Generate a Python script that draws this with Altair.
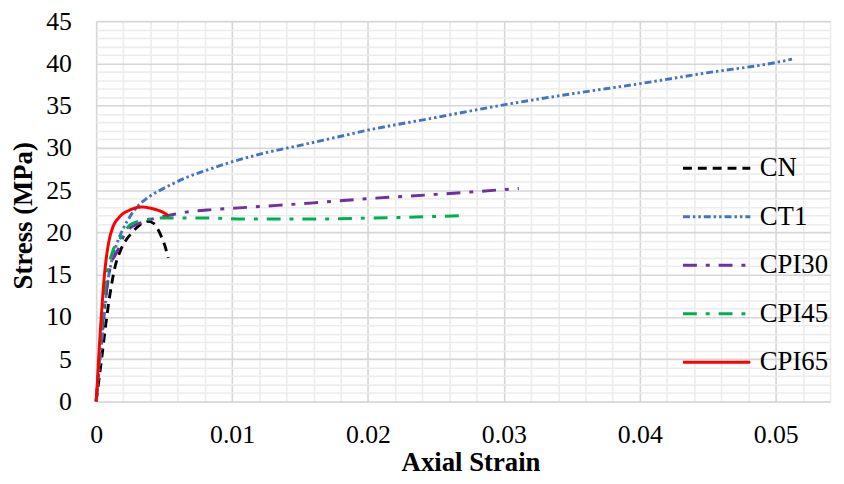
import altair as alt
import pandas as pd

series_names = ["CN", "CT1", "CPI30", "CPI45", "CPI65"]
series_colors = ["#000000", "#4472C4", "#7030A0", "#00B050", "#FF0000"]
series_dashes = [[9, 6], [7, 3, 2.5, 3, 2.5, 3], [14, 9, 4, 9], [14, 9, 4, 9], [1, 0]]
series_widths = [2.9, 3.0, 4.5, 4.5, 3.6]

cn_strain = [0, 0.0002, 0.0004, 0.0007, 0.001, 0.0014, 0.0018, 0.0022, 0.0026, 0.003,
             0.0034, 0.0038, 0.0042, 0.0045, 0.0048, 0.0051, 0.0053]
cn_stress = [0, 2.5, 5, 9.0, 12.5, 16.0, 17.9, 19.1, 19.9, 20.6,
             21.1, 21.3, 21.1, 20.5, 19.5, 18.2, 17.0]

ct1_strain = [0, 0.0002, 0.0005, 0.0008, 0.0012, 0.0016, 0.002, 0.0025, 0.003, 0.0037,
              0.0046, 0.0057, 0.0068, 0.0082, 0.0097, 0.0124, 0.015, 0.0175, 0.02, 0.025,
              0.03, 0.035, 0.04, 0.045, 0.05, 0.0512]
ct1_stress = [0, 3.5, 8.5, 13.5, 17.0, 19.0, 20.5, 21.9, 23.0, 24.0,
              24.9, 25.8, 26.6, 27.4, 28.2, 29.4, 30.3, 31.2, 32.1, 33.6,
              35.1, 36.4, 37.6, 38.9, 40.1, 40.5]

cpi30_strain = [0, 0.0002, 0.0005, 0.0008, 0.0011, 0.0014, 0.0017, 0.002, 0.0024, 0.0029,
                0.0034, 0.0044, 0.0053, 0.0066, 0.0085, 0.0105, 0.0133, 0.016, 0.02, 0.025, 0.0311]
cpi30_stress = [0, 4, 9.5, 13.5, 16.3, 17.3, 18.3, 19.5, 20.4, 20.9,
                21.2, 21.7, 22.0, 22.4, 22.7, 22.9, 23.2, 23.5, 24.0, 24.5, 25.2]

cpi45_strain = [0, 0.0002, 0.0004, 0.0007, 0.0012, 0.0017, 0.0021, 0.0025, 0.0031, 0.0037,
                0.0046, 0.0057, 0.008, 0.011, 0.014, 0.017, 0.02, 0.023, 0.0272]
cpi45_stress = [0, 4.5, 9, 14, 17.7, 19.1, 20.1, 20.9, 21.3, 21.5,
                21.7, 21.7, 21.7, 21.6, 21.6, 21.6, 21.7, 21.8, 22.0]

cpi65_strain = [0, 0.0001, 0.0002, 0.0004, 0.0006, 0.0008, 0.001, 0.0012, 0.0017, 0.0024,
                0.0029, 0.0034, 0.0039, 0.0044, 0.0049, 0.0053]
cpi65_stress = [0, 2.5, 5.5, 10.5, 14.8, 17.6, 19.4, 20.5, 21.8, 22.6,
                22.9, 23.0, 22.9, 22.7, 22.4, 22.0]

x_tick_values = [round(i * 0.002, 3) for i in range(28)]
y_tick_values = list(range(46))

series_data = [
    ("CN", cn_strain, cn_stress),
    ("CT1", ct1_strain, ct1_stress),
    ("CPI30", cpi30_strain, cpi30_stress),
    ("CPI45", cpi45_strain, cpi45_stress),
    ("CPI65", cpi65_strain, cpi65_stress),
]
rows = []
for name, xs, ys in series_data:
    for i, (a, b) in enumerate(zip(xs, ys)):
        rows.append({"series": name, "strain": a, "stress": b, "idx": i})
df = pd.DataFrame(rows)

FONT = "Liberation Serif"
MAJOR = "#d6d6d6"
MINOR = "#ececec"

legend = alt.Legend(
    title=None, orient="none", legendX=591, legendY=113,
    symbolType="stroke", symbolSize=4624, labelFont=FONT, labelFontSize=27,
    labelColor="black", rowPadding=-19, labelOffset=8, padding=0,
)

x_axis = alt.Axis(
    values=x_tick_values,
    labelExpr="round(datum.value*1000) % 10 === 0 ? format(datum.value, '~g') : ''",
    gridColor={"condition": {"test": "round(datum.value*1000) % 10 === 0", "value": MAJOR}, "value": MINOR},
    gridWidth=1.6, domain=False, ticks=False, tickSize=0,
    labelFont=FONT, labelFontSize=26, labelColor="black", labelPadding=20,
    labelFlush=False, labelOverlap=False,
    title="Axial Strain", titleFont=FONT, titleFontSize=27, titleFontWeight="bold",
    titleColor="black", titleX=378, titleY=70, titleBaseline="alphabetic", titleAnchor="middle",
)
y_axis = alt.Axis(
    values=y_tick_values,
    labelExpr="datum.value % 5 === 0 ? datum.label : ''",
    gridColor={"condition": {"test": "datum.value % 5 === 0", "value": MAJOR}, "value": MINOR},
    gridWidth=1.6, domain=False, ticks=False, tickSize=0,
    labelFont=FONT, labelFontSize=26, labelColor="black", labelPadding=25,
    labelFlush=False, labelOverlap=False,
    title="Stress (MPa)", titleFont=FONT, titleFontSize=27, titleFontWeight="bold",
    titleColor="black", titleAngle=270, titleX=-73, titleY=196, titleBaseline="middle",
    titleAlign="center",
)

chart = alt.Chart(df).mark_line(interpolate="monotone").encode(
    x=alt.X("strain:Q", scale=alt.Scale(domain=[0, 0.054], nice=False, zero=True), axis=x_axis),
    y=alt.Y("stress:Q", scale=alt.Scale(domain=[0, 45], nice=False), axis=y_axis),
    color=alt.Color("series:N", scale=alt.Scale(domain=series_names, range=series_colors), legend=legend),
    strokeDash=alt.StrokeDash("series:N", scale=alt.Scale(domain=series_names, range=series_dashes), legend=legend),
    strokeWidth=alt.StrokeWidth("series:N", scale=alt.Scale(domain=series_names, range=series_widths), legend=legend),
    order=alt.Order("idx:Q"),
).properties(
    width=741, height=384,
    padding={"left": 89, "top": 11, "right": 6, "bottom": 73},
    autosize=alt.AutoSizeParams(type="none"),
).configure_view(stroke=None).configure(background="white")

chart.save("out.html", embed_options={"renderer": "svg", "actions": False})
